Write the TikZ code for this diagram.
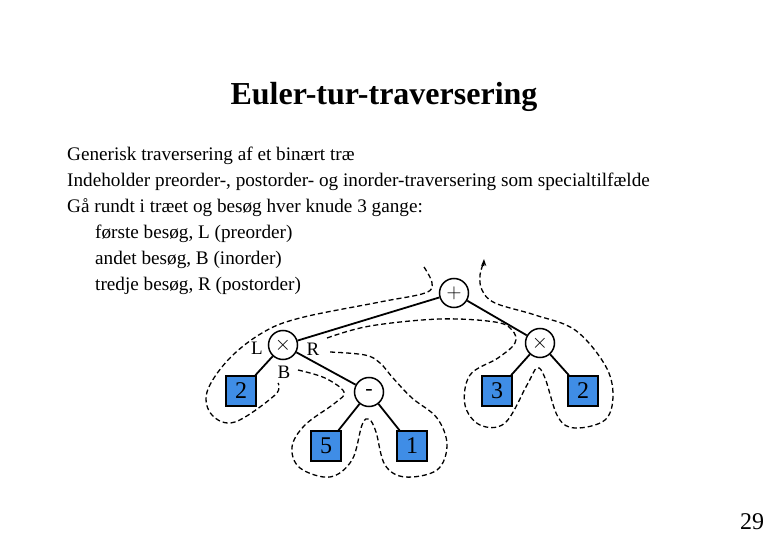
\documentclass[tikz,border=0pt]{standalone}
\usepackage{fontspec}
\setmainfont{Liberation Serif}
\usetikzlibrary{arrows.meta}
\definecolor{boxblue}{HTML}{3F8DE6}
\begin{document}
\begin{tikzpicture}[x=1pt,y=-1pt,
  inner/.style={circle,draw,line width=1.5pt,minimum size=29pt,inner sep=0pt,font=\fontsize{22}{22}\selectfont},
  leaf/.style={rectangle,draw,line width=1.5pt,fill=boxblue,minimum size=30pt,inner sep=0pt,font=\fontsize{24}{24}\selectfont},
  edge/.style={line width=1.8pt},
  tour/.style={dash pattern=on 5pt off 3pt,line width=1.3pt},
  txt/.style={anchor=west,inner sep=0pt,font=\fontsize{19.2}{19.2}\selectfont},
  lab/.style={inner sep=0pt,font=\fontsize{19}{19}\selectfont}]
\useasboundingbox[fill=white] (0,0) rectangle (780,540);
\node[font=\bfseries\fontsize{32}{32}\selectfont] (title) at (384,97) {Euler-tur-traversering};
\node[txt] (t1) at (67,156) {Generisk traversering af et binært træ};
\node[txt] (t2) at (67,182) {Indeholder preorder-, postorder- og inorder-traversering som specialtilfælde};
\node[txt] (t3) at (67,208) {Gå rundt i træet og besøg hver knude 3 gange:};
\node[txt] (t4) at (95,234) {første besøg, L (preorder)};
\node[txt] (t5) at (95,260) {andet besøg, B (inorder)};
\node[txt] (t6) at (95,286) {tredje besøg, R (postorder)};
\node[font=\fontsize{24}{24}\selectfont] (pg) at (752,522) {29};

\node[inner] (plus) at (454,293) {$+$};
\node[inner] (tl) at (283,345) {$\times$};
\node[inner] (tr) at (540,343) {$\times$};
\node[inner] (minus) at (369,392) {-};
\node[leaf] (l2) at (241,391) {2};
\node[leaf] (l5) at (326,446) {5};
\node[leaf] (l1) at (412,446) {1};
\node[leaf] (l3) at (497,391) {3};
\node[leaf] (r2) at (583,391) {2};
\draw[edge] (plus) -- (tl);
\draw[edge] (plus) -- (tr);
\draw[edge] (tl) -- (l2);
\draw[edge] (tl) -- (minus);
\draw[edge] (minus) -- (l5);
\draw[edge] (minus) -- (l1);
\draw[edge] (tr) -- (l3);
\draw[edge] (tr) -- (r2);
\node[lab] (L) at (257,348) {L};
\node[lab] (R) at (313,349) {R};
\node[lab] (B) at (284,372) {B};

\draw[tour] plot[smooth,tension=0.6] coordinates {(424,267) (432,283) (425,293) (380,302) (300,318) (262,333) (228,360) (207,392) (212,415) (235,422) (275,395) (278,383)};
\draw[tour] plot[smooth,tension=0.6] coordinates {(298,370) (325,378) (344,392) (335,403) (305,425) (292,447) (300,468) (330,477) (352,460) (362,425) (369,419) (376,432) (385,465) (405,477) (437,470) (447,445) (437,418) (412,398) (393,378) (380,363) (365,355) (330,352)};
\draw[tour] plot[smooth,tension=0.6] coordinates {(327,338) (370,326) (440,319) (495,322) (512,330) (515,343) (498,358) (470,375) (465,405) (480,425) (505,423) (527,385) (537,368) (545,378) (558,417) (575,428) (605,420) (613,395) (605,365) (575,330) (535,315) (495,303) (482,290) (480,275) (484,262)};
\coordinate (tip) at (484,259);
\draw[-{Stealth[length=7pt]},line width=1.3pt] (483.7,266) -- (tip);
\end{tikzpicture}
\end{document}
